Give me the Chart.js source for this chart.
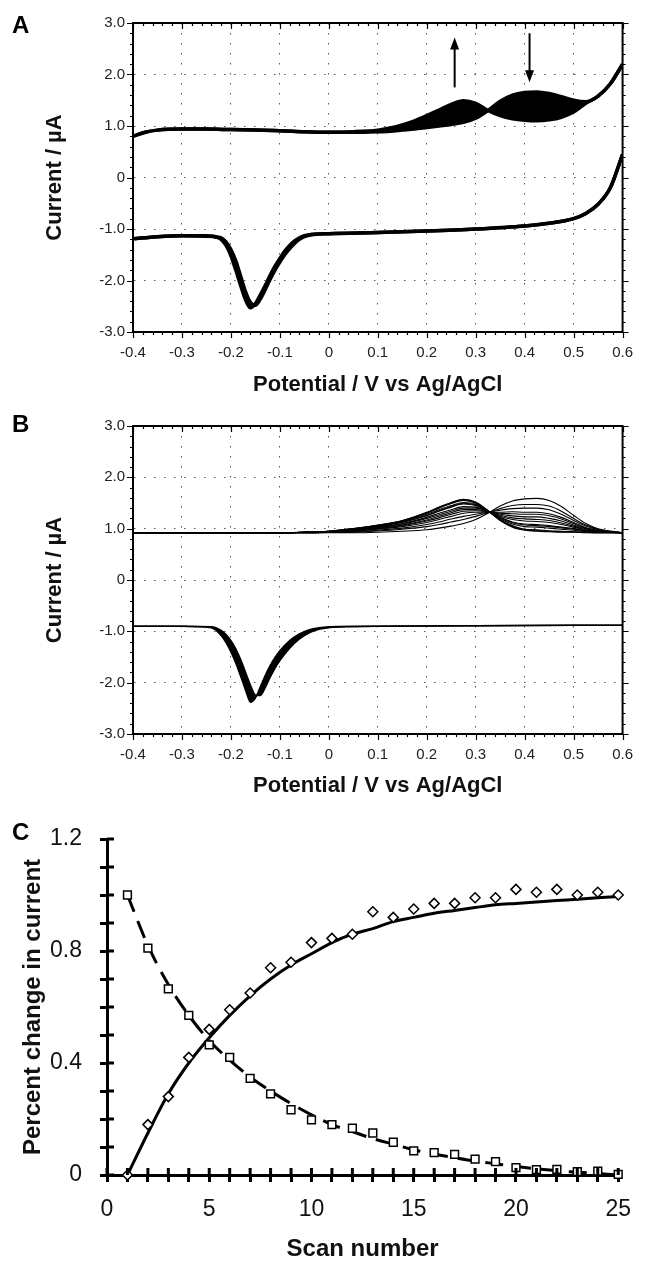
<!DOCTYPE html>
<html>
<head>
<meta charset="utf-8">
<script src="https://cdn.jsdelivr.net/npm/chart.js@4.4.1/dist/chart.umd.min.js"></script>
<style>
  html, body { margin: 0; padding: 0; background: #fff; }
  #wrap { position: relative; width: 645px; height: 1261px; overflow: hidden; }
  canvas { position: absolute; left: 0; }
  .tag { position: absolute; left: 12px; font: bold 24px/1 "Liberation Sans", Arial, sans-serif; color: #000; }
</style>
</head>
<body>
<div id="wrap">
  <canvas id="chartA" width="645" height="400" style="top:0"></canvas>
  <canvas id="chartB" width="645" height="400" style="top:400px"></canvas>
  <canvas id="chartC" width="645" height="461" style="top:800px"></canvas>
  <div class="tag" style="top:13px">A</div>
  <div class="tag" style="top:412px">B</div>
  <div class="tag" style="top:820px">C</div>
</div>
<script>
// ---- panel A: measured voltammograms (first and last scan of 25) ----
const potA_fwd = [-0.4, -0.375, -0.35, -0.3, -0.25, -0.2, -0.15, -0.1, -0.05, 0, 0.05, 0.1, 0.125, 0.15, 0.175, 0.2, 0.225, 0.25, 0.275, 0.3, 0.325, 0.35, 0.375, 0.4, 0.425, 0.45, 0.475, 0.5, 0.525, 0.55, 0.575, 0.6];
const curA_fwd_first = [0.80, 0.88, 0.92, 0.94, 0.94, 0.93, 0.92, 0.91, 0.89, 0.88, 0.88, 0.89, 0.90, 0.92, 0.94, 0.97, 1.00, 1.03, 1.07, 1.15, 1.30, 1.48, 1.60, 1.65, 1.66, 1.63, 1.57, 1.50, 1.47, 1.58, 1.82, 2.20];
const curA_fwd_last = [0.80, 0.88, 0.92, 0.94, 0.94, 0.93, 0.92, 0.91, 0.89, 0.88, 0.89, 0.92, 0.96, 1.02, 1.10, 1.20, 1.31, 1.42, 1.49, 1.44, 1.30, 1.20, 1.14, 1.11, 1.10, 1.12, 1.17, 1.27, 1.44, 1.58, 1.82, 2.20];

const potA_rev = [-0.4, -0.35, -0.3, -0.25, -0.23, -0.22, -0.21, -0.2, -0.19, -0.18, -0.17, -0.16, -0.15, -0.14, -0.13, -0.12, -0.11, -0.1, -0.09, -0.08, -0.07, -0.06, -0.05, -0.04, 0, 0.1, 0.2, 0.3, 0.4, 0.45, 0.5, 0.525, 0.55, 0.575, 0.6];
const curA_rev_first = [-1.19, -1.15, -1.13, -1.13, -1.15, -1.17, -1.25, -1.40, -1.62, -1.92, -2.22, -2.43, -2.48, -2.36, -2.18, -1.98, -1.80, -1.64, -1.50, -1.38, -1.28, -1.20, -1.15, -1.12, -1.09, -1.07, -1.04, -1.00, -0.94, -0.89, -0.80, -0.70, -0.52, -0.20, 0.45];
const curA_rev_last = [-1.19, -1.15, -1.13, -1.14, -1.16, -1.20, -1.32, -1.52, -1.80, -2.10, -2.38, -2.53, -2.45, -2.28, -2.10, -1.90, -1.72, -1.57, -1.43, -1.32, -1.23, -1.17, -1.13, -1.11, -1.09, -1.07, -1.04, -1.00, -0.94, -0.89, -0.80, -0.70, -0.52, -0.20, 0.45];

// arrows in panel A (potential, start current, end current)
const arrowPotential = [0.257, 0.41];
const arrowFrom = [1.75, 2.80];
const arrowTo = [2.72, 1.85];

// ---- panel B: simulated voltammograms ----
const potB_fwd = [-0.4, -0.1, -0.05, 0, 0.05, 0.1, 0.15, 0.2, 0.225, 0.25, 0.275, 0.3, 0.325, 0.35, 0.375, 0.4, 0.425, 0.45, 0.475, 0.5, 0.525, 0.55, 0.6];
const curB_scan1 = [0.92, 0.92, 0.92, 0.92, 0.92, 0.93, 0.95, 0.98, 1.01, 1.05, 1.10, 1.18, 1.30, 1.44, 1.54, 1.58, 1.59, 1.55, 1.43, 1.26, 1.10, 1.00, 0.92];
const curB_scan2 = [0.92, 0.92, 0.92, 0.925, 0.93, 0.955, 0.99, 1.04, 1.08, 1.13, 1.18, 1.24, 1.31, 1.39, 1.45, 1.47, 1.47, 1.44, 1.34, 1.20, 1.07, 0.99, 0.92];
const curB_scan3 = [0.92, 0.92, 0.92, 0.93, 0.94, 0.97, 1.01, 1.08, 1.13, 1.19, 1.24, 1.28, 1.32, 1.36, 1.39, 1.40, 1.40, 1.37, 1.28, 1.16, 1.05, 0.98, 0.92];
const curB_scan4 = [0.92, 0.92, 0.92, 0.93, 0.95, 0.99, 1.04, 1.12, 1.18, 1.24, 1.30, 1.32, 1.32, 1.32, 1.33, 1.32, 1.32, 1.29, 1.22, 1.12, 1.02, 0.97, 0.92];
const curB_scan5 = [0.92, 0.92, 0.92, 0.93, 0.96, 1.00, 1.06, 1.15, 1.21, 1.28, 1.34, 1.35, 1.33, 1.30, 1.29, 1.28, 1.28, 1.25, 1.19, 1.10, 1.01, 0.96, 0.92];
const curB_scan6 = [0.92, 0.92, 0.93, 0.94, 0.97, 1.01, 1.07, 1.17, 1.24, 1.31, 1.37, 1.37, 1.33, 1.28, 1.25, 1.23, 1.23, 1.20, 1.15, 1.07, 1.00, 0.95, 0.92];
const curB_scan7 = [0.92, 0.92, 0.93, 0.94, 0.975, 1.02, 1.09, 1.20, 1.27, 1.34, 1.40, 1.40, 1.34, 1.26, 1.21, 1.19, 1.18, 1.16, 1.11, 1.05, 0.98, 0.945, 0.92];
const curB_scan8 = [0.92, 0.92, 0.93, 0.94, 0.98, 1.03, 1.10, 1.22, 1.30, 1.37, 1.43, 1.42, 1.34, 1.24, 1.18, 1.15, 1.14, 1.12, 1.08, 1.03, 0.97, 0.94, 0.92];
const curB_scan10 = [0.92, 0.92, 0.93, 0.94, 0.98, 1.04, 1.12, 1.25, 1.34, 1.42, 1.48, 1.45, 1.34, 1.22, 1.13, 1.09, 1.08, 1.06, 1.03, 1.00, 0.96, 0.94, 0.92];
const curB_scan11 = [0.92, 0.92, 0.93, 0.945, 0.985, 1.045, 1.13, 1.26, 1.35, 1.43, 1.495, 1.465, 1.34, 1.21, 1.115, 1.07, 1.06, 1.04, 1.015, 0.99, 0.955, 0.935, 0.92];
const curB_scan13 = [0.92, 0.92, 0.93, 0.95, 0.99, 1.05, 1.14, 1.28, 1.37, 1.45, 1.51, 1.48, 1.34, 1.19, 1.09, 1.04, 1.03, 1.01, 0.99, 0.97, 0.94, 0.93, 0.92];
const curB_scan17 = [0.92, 0.92, 0.93, 0.95, 1.00, 1.06, 1.15, 1.30, 1.40, 1.49, 1.55, 1.50, 1.35, 1.17, 1.06, 0.99, 0.98, 0.96, 0.95, 0.94, 0.93, 0.92, 0.92];
const curB_scan20 = [0.92, 0.92, 0.93, 0.95, 1.00, 1.065, 1.155, 1.31, 1.41, 1.50, 1.56, 1.51, 1.35, 1.165, 1.045, 0.98, 0.965, 0.95, 0.94, 0.935, 0.925, 0.92, 0.92];
const curB_scan25 = [0.92, 0.92, 0.93, 0.95, 1.00, 1.07, 1.16, 1.32, 1.42, 1.51, 1.57, 1.52, 1.35, 1.16, 1.03, 0.97, 0.95, 0.94, 0.93, 0.93, 0.92, 0.92, 0.92];

const potB_rev = [-0.4, -0.3, -0.24, -0.22, -0.21, -0.2, -0.19, -0.18, -0.17, -0.16, -0.15, -0.14, -0.13, -0.12, -0.11, -0.1, -0.08, -0.06, -0.04, -0.02, 0, 0.05, 0.1, 0.3, 0.6];
const curB_rev_first = [-0.90, -0.90, -0.91, -0.98, -1.06, -1.18, -1.34, -1.55, -1.80, -2.05, -2.24, -2.25, -2.10, -1.90, -1.72, -1.57, -1.33, -1.15, -1.03, -0.96, -0.93, -0.91, -0.90, -0.89, -0.88];
const curB_rev_last = [-0.90, -0.90, -0.93, -1.08, -1.22, -1.40, -1.62, -1.88, -2.15, -2.38, -2.30, -2.08, -1.86, -1.67, -1.51, -1.38, -1.18, -1.05, -0.97, -0.93, -0.91, -0.90, -0.90, -0.89, -0.88];

// ---- panel C: normalised peak change vs scan number ----
const scanNumber = [1, 2, 3, 4, 5, 6, 7, 8, 9, 10, 11, 12, 13, 14, 15, 16, 17, 18, 19, 20, 21, 22, 23, 24, 25];
const riseMeasured = [0, 0.18, 0.28, 0.42, 0.52, 0.59, 0.65, 0.74, 0.76, 0.83, 0.845, 0.86, 0.94, 0.92, 0.95, 0.97, 0.97, 0.99, 0.99, 1.02, 1.01, 1.02, 1.00, 1.01, 1.00];
const decayMeasured = [1.00, 0.81, 0.665, 0.57, 0.465, 0.42, 0.345, 0.29, 0.233, 0.197, 0.18, 0.167, 0.15, 0.117, 0.086, 0.08, 0.074, 0.057, 0.048, 0.026, 0.019, 0.02, 0.012, 0.014, 0.002];
const riseFit = [0, 0.15, 0.29, 0.40, 0.49, 0.57, 0.64, 0.70, 0.75, 0.79, 0.83, 0.86, 0.88, 0.905, 0.92, 0.935, 0.945, 0.955, 0.965, 0.97, 0.975, 0.98, 0.985, 0.99, 0.995];
const decayFit = [1.0, 0.82, 0.68, 0.57, 0.48, 0.41, 0.35, 0.30, 0.255, 0.215, 0.18, 0.155, 0.13, 0.11, 0.09, 0.075, 0.062, 0.05, 0.04, 0.03, 0.022, 0.015, 0.01, 0.005, 0.0];

const FONT = '"Liberation Sans", Arial, Helvetica, sans-serif';

function pts(xs, ys) {
    return xs.map((x, i) => ({ x: x, y: ys[i] }));
}

function trace(xs, ys, width, fill) {
    return {
        data: pts(xs, ys),
        borderColor: '#000',
        backgroundColor: '#000',
        borderWidth: width,
        pointRadius: 0,
        cubicInterpolationMode: 'monotone',
        fill: fill || false
    };
}

// box, minor ticks on all four sides of a voltammogram
const cvFrame = {
    id: 'cvFrame',
    afterDraw(chart) {
        const { ctx, chartArea: a, scales: { x, y } } = chart;
        ctx.save();
        ctx.strokeStyle = '#000';
        ctx.lineWidth = 2;
        ctx.strokeRect(a.left, a.top, a.right - a.left, a.bottom - a.top);
        ctx.lineWidth = 1.2;
        ctx.beginPath();
        for (let i = 0; i <= 50; i++) {
            const v = x.min + i * 0.02;
            const px = Math.round(x.getPixelForValue(v)) + 0.5;
            const len = i % 5 === 0 ? 6 : 3;
            ctx.moveTo(px, a.bottom); ctx.lineTo(px, a.bottom + len);
            ctx.moveTo(px, a.top); ctx.lineTo(px, a.top + len);
        }
        for (let i = 0; i <= 30; i++) {
            const v = y.min + i * 0.2;
            const py = Math.round(y.getPixelForValue(v)) + 0.5;
            const len = i % 5 === 0 ? 6 : 3;
            ctx.moveTo(a.left - len, py); ctx.lineTo(a.left, py);
            ctx.moveTo(a.right, py); ctx.lineTo(a.right + len, py);
        }
        ctx.stroke();
        ctx.restore();
    }
};

const arrowPlugin = {
    id: 'arrows',
    afterDatasetsDraw(chart) {
        const { ctx, scales: { x, y } } = chart;
        ctx.save();
        ctx.strokeStyle = '#000';
        ctx.fillStyle = '#000';
        ctx.lineWidth = 2;
        arrowPotential.forEach((v, i) => {
            const px = x.getPixelForValue(v);
            const y0 = y.getPixelForValue(arrowFrom[i]);
            const y1 = y.getPixelForValue(arrowTo[i]);
            const dir = Math.sign(y1 - y0);
            ctx.beginPath();
            ctx.moveTo(px, y0);
            ctx.lineTo(px, y1 - dir * 10);
            ctx.stroke();
            ctx.beginPath();
            ctx.moveTo(px, y1);
            ctx.lineTo(px - 4.5, y1 - dir * 12);
            ctx.lineTo(px + 4.5, y1 - dir * 12);
            ctx.closePath();
            ctx.fill();
        });
        ctx.restore();
    }
};

function cvChart(id, area, datasets, plugins) {
    return new Chart(document.getElementById(id), {
        type: 'line',
        data: { datasets: datasets },
        options: {
            responsive: false,
            animation: false,
            events: [],
            layout: { padding: { top: area.top, right: 645 - area.right, left: 0, bottom: 0 } },
            plugins: { legend: { display: false }, tooltip: { enabled: false } },
            scales: {
                x: {
                    type: 'linear', min: -0.4, max: 0.6,
                    afterFit: s => { s.height = area.height - area.bottom; },
                    ticks: {
                        stepSize: 0.1, autoSkip: false, maxRotation: 0, padding: 12,
                        color: '#222', font: { family: FONT, size: 15 },
                        callback: v => Math.abs(v) < 1e-9 ? '0' : v.toFixed(1)
                    },
                    grid: { color: '#555', lineWidth: 1, drawTicks: false },
                    border: { display: true, color: '#000', width: 2, dash: [1.5, 8.5] },
                    title: {
                        display: true, text: 'Potential / V vs Ag/AgCl', color: '#111',
                        font: { family: FONT, size: 22, weight: 'bold' },
                        padding: { top: 0, bottom: area.xTitlePad }
                    }
                },
                y: {
                    min: -3, max: 3,
                    afterFit: s => { s.width = area.left; },
                    ticks: {
                        stepSize: 1, padding: 8,
                        color: '#222', font: { family: FONT, size: 15 },
                        callback: v => v === 0 ? '0' : v.toFixed(1)
                    },
                    grid: { color: '#555', lineWidth: 1, drawTicks: false },
                    border: { display: true, color: '#000', width: 2, dash: [1.5, 8.5] },
                    title: {
                        display: true, text: 'Current / µA', color: '#111',
                        font: { family: FONT, size: 22, weight: 'bold' },
                        padding: { top: 42, bottom: 0 }
                    }
                }
            }
        },
        plugins: plugins
    });
}

cvChart('chartA', { top: 23, bottom: 332, left: 133, right: 633, height: 400, xTitlePad: 2 }, [
    trace(potA_fwd, curA_fwd_first, 3.5),
    trace(potA_fwd, curA_fwd_last, 3.5, '-1'),
    trace(potA_rev, curA_rev_first, 3.5),
    trace(potA_rev, curA_rev_last, 3.5, '-1')
], [cvFrame, arrowPlugin]);

const scansB = [curB_scan1, curB_scan2, curB_scan3, curB_scan4, curB_scan5, curB_scan6, curB_scan7, curB_scan8,
    curB_scan10, curB_scan11, curB_scan13, curB_scan17, curB_scan20, curB_scan25];
const datasetsB = scansB.map(s => trace(potB_fwd, s, 1.1));
datasetsB.push(trace(potB_rev, curB_rev_first, 1.5));
datasetsB.push(trace(potB_rev, curB_rev_last, 1.5, '-1'));
cvChart('chartB', { top: 26, bottom: 334, left: 133, right: 630, height: 400, xTitlePad: 1 }, datasetsB, [cvFrame]);

// ticks in panel C cross the axis lines
const crossTicks = {
    id: 'crossTicks',
    afterDraw(chart) {
        const { ctx, scales: { x, y } } = chart;
        ctx.save();
        ctx.strokeStyle = '#000';
        ctx.lineWidth = 3;
        ctx.beginPath();
        x.ticks.forEach(t => {
            const px = x.getPixelForValue(t.value);
            ctx.moveTo(px, x.top); ctx.lineTo(px, x.top - 7);
        });
        y.ticks.forEach(t => {
            const py = y.getPixelForValue(t.value);
            ctx.moveTo(y.right, py); ctx.lineTo(y.right + 7, py);
        });
        ctx.stroke();
        ctx.restore();
    }
};

const isMult = (v, step) => Math.abs(v / step - Math.round(v / step)) < 1e-6;

new Chart(document.getElementById('chartC'), {
    type: 'line',
    data: {
        datasets: [
            {
                data: pts(scanNumber, riseMeasured), showLine: false,
                pointStyle: 'rectRot', pointRadius: 5, pointBorderWidth: 1.5,
                pointBackgroundColor: '#fff', pointBorderColor: '#000', clip: false
            },
            {
                data: pts(scanNumber, decayMeasured), showLine: false,
                pointStyle: 'rect', pointRadius: 5.5, pointBorderWidth: 1.5,
                pointBackgroundColor: '#fff', pointBorderColor: '#000', clip: false
            },
            {
                data: pts(scanNumber, riseFit), borderColor: '#000', borderWidth: 3,
                pointRadius: 0, cubicInterpolationMode: 'monotone', clip: false
            },
            {
                data: pts(scanNumber, decayFit), borderColor: '#000', borderWidth: 3,
                borderDash: [18, 10], pointRadius: 0, cubicInterpolationMode: 'monotone', clip: false
            }
        ]
    },
    options: {
        responsive: false,
        animation: false,
        events: [],
        layout: { padding: { top: 39, right: 21, left: 0, bottom: 0 } },
        plugins: { legend: { display: false }, tooltip: { enabled: false } },
        scales: {
            x: {
                type: 'linear', min: 0, max: 25,
                afterFit: s => { s.height = 461 - 375; },
                ticks: {
                    stepSize: 1, autoSkip: false, maxRotation: 0, padding: 14,
                    color: '#111', font: { family: FONT, size: 23 },
                    callback: v => isMult(v, 5) ? String(v) : ''
                },
                grid: { drawOnChartArea: false, tickLength: 7, tickWidth: 3, tickColor: '#000' },
                border: { display: true, color: '#000', width: 3 },
                title: {
                    display: true, text: 'Scan number', color: '#111',
                    font: { family: FONT, size: 24, weight: 'bold', lineHeight: 1 },
                    padding: { top: 0, bottom: 0 }
                }
            },
            y: {
                min: 0, max: 1.2,
                afterFit: s => { s.width = 107; },
                ticks: {
                    stepSize: 0.1, autoSkip: false, padding: 18,
                    color: '#111', font: { family: FONT, size: 23 },
                    callback: v => isMult(v, 0.4) ? (v === 0 ? '0' : v.toFixed(1)) : ''
                },
                grid: { drawOnChartArea: false, tickLength: 7, tickWidth: 3, tickColor: '#000' },
                border: { display: true, color: '#000', width: 3 },
                title: {
                    display: true, text: 'Percent change in current', color: '#111',
                    font: { family: FONT, size: 24, weight: 'bold' },
                    padding: { top: 19, bottom: 0 }
                }
            }
        }
    },
    plugins: [crossTicks]
});
</script>
</body>
</html>
